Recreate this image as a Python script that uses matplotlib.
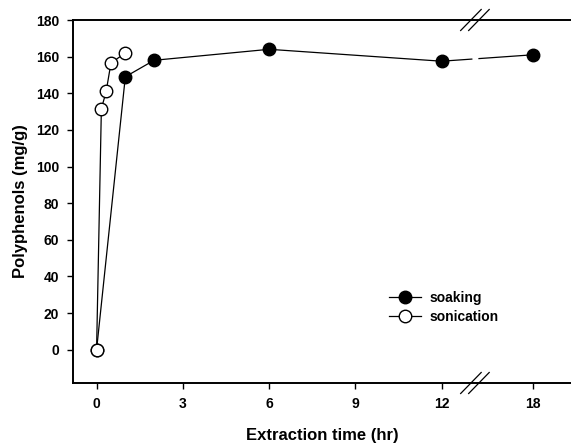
import numpy as np
import matplotlib
matplotlib.use("Agg")
import matplotlib.pyplot as plt
import matplotlib.transforms as mtransforms

plt.rcParams['font.family'] = ['Liberation Sans', 'DejaVu Sans']
plt.rcParams['font.weight'] = 'bold'

# ── Dados ────────────────────────────────────────────────────────────────────
soak_t = [0, 1, 2, 6, 12, 18]
soak_y = [0, 149, 158, 164, 157.5, 161]

sonic_t = [0, 1/6, 1/3, 0.5, 1]
sonic_y = [0, 131.5, 141, 156.5, 162]

xticks = [0, 3, 6, 9, 12, 18]

# ── Eixo quebrado: 12 → 18 comprimido ────────────────────────────────────────
BREAK = 12.0
SCALE = 3.17 / 6.0


def tx(t):
    t = np.asarray(t, dtype=float)
    return np.where(t <= BREAK, t, BREAK + (t - BREAK) * SCALE)


fig = plt.figure(figsize=(5.71, 4.43), dpi=100)
ax = fig.add_axes([73 / 571, 1 - 383 / 443, 1 - 73 / 571, (383 - 20) / 443])

# Linha soaking com falha na quebra
sx = tx(soak_t)
gap_lo, gap_hi = 13.05, 13.3
y12, y18 = soak_y[4], soak_y[5]
x12, x18 = sx[4], sx[5]
ya = y12 + (y18 - y12) * (gap_lo - x12) / (x18 - x12)
yb = y12 + (y18 - y12) * (gap_hi - x12) / (x18 - x12)
ax.plot(list(sx[:5]) + [gap_lo], soak_y[:5] + [ya], color='black', lw=0.9, zorder=2)
ax.plot([gap_hi, x18], [yb, y18], color='black', lw=0.9, zorder=2)
ax.plot(sx, soak_y, ls='none', marker='o', ms=9, mfc='black', mec='black', zorder=3)

ax.plot(tx(sonic_t), sonic_y, color='black', lw=0.9, marker='o', ms=9,
        mfc='white', mec='black', mew=1.0, zorder=4)

# Legenda manual (handles)
h1, = ax.plot([], [], color='black', lw=0.9, marker='o', ms=9, mfc='black', mec='black')
h2, = ax.plot([], [], color='black', lw=0.9, marker='o', ms=9, mfc='white', mec='black')
leg = ax.legend([h1, h2], ['soaking', 'sonication'], loc='upper left',
                bbox_to_anchor=(0.615, 0.281), frameon=False, fontsize=10,
                handlelength=2.3, handletextpad=0.6, labelspacing=0.35,
                borderpad=0.2)
for t in leg.get_texts():
    t.set_fontweight('bold')

ax.set_xlim(-0.82, 16.5)
ax.set_ylim(-18.2, 180)
ax.set_xticks(tx(xticks))
ax.set_xticklabels([str(v) for v in xticks])
ax.set_yticks(np.arange(0, 181, 20))
ax.tick_params(direction='out', length=4, width=1.0, labelsize=10, pad=6)
for lbl in ax.get_xticklabels() + ax.get_yticklabels():
    lbl.set_fontweight('bold')

ax.spines['right'].set_visible(False)
for s in ['left', 'top', 'bottom']:
    ax.spines[s].set_linewidth(1.4)

ax.set_xlabel('Extraction time (hr)', fontsize=12, fontweight='bold', labelpad=12)
ax.set_ylabel('Polyphenols (mg/g)', fontsize=12, fontweight='bold', labelpad=6)

# Marcas de quebra //
kw = dict(color='black', lw=0.9, clip_on=False, zorder=5)
px = 28.73  # px por hora
trans = mtransforms.blended_transform_factory(ax.transData, fig.transFigure)
for y_px in [20, 383]:
    y0 = 1 - (y_px + 10.5) / 443
    y1 = 1 - (y_px - 10.5) / 443
    for x0_px in [460.5, 468.5]:
        x0 = (x0_px - 96.7) / px
        x1 = x0 + 20.5 / px
        ax.plot([x0, x1], [y0, y1], transform=trans, **kw)

fig.savefig('out.png', dpi=100)
